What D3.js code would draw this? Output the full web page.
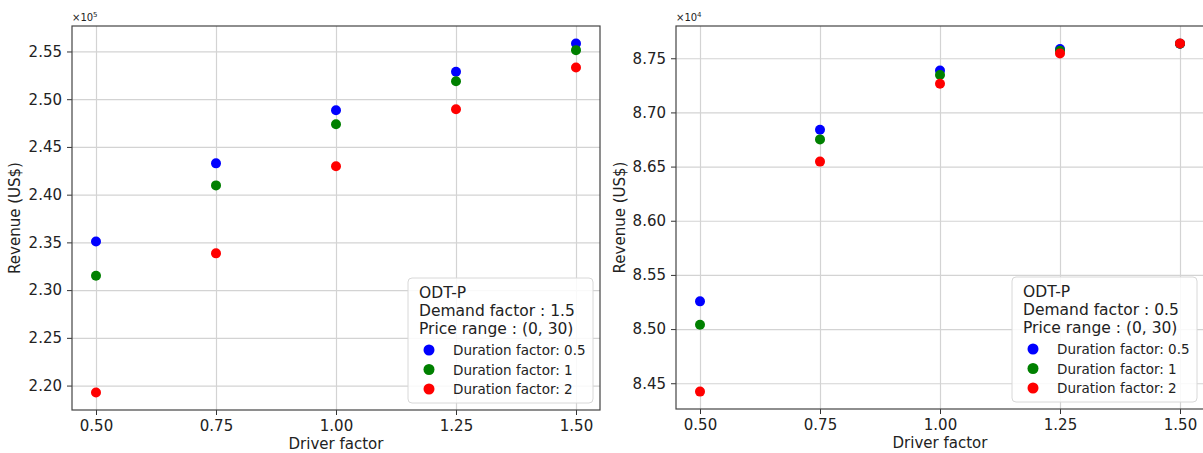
<!DOCTYPE html>
<html>
<head>
<meta charset="utf-8">
<script src="https://cdn.jsdelivr.net/npm/d3@7"></script>
<style>
  body { margin: 0; background: #ffffff; }
  text { font-family: 'DejaVu Sans', sans-serif; fill: #222; }
</style>
</head>
<body>
<div id="chart"></div>
<script>
// Data.
const driverFactors = [0.5, 0.75, 1.0, 1.25, 1.5];
const xTicks = [0.5, 0.75, 1.0, 1.25, 1.5];
const seriesNames = ['Duration factor: 0.5', 'Duration factor: 1', 'Duration factor: 2'];
const seriesColors = ['#0000ff', '#008000', '#ff0000'];

// Demand factor 1.5 (x 1e5)
const leftDuration05 = [2.351, 2.4328, 2.4885, 2.5287, 2.5584];
const leftDuration1 = [2.315, 2.4097, 2.4738, 2.5188, 2.5514];
const leftDuration2 = [2.1927, 2.3385, 2.4297, 2.4895, 2.5332];
const leftYTicks = [2.20, 2.25, 2.30, 2.35, 2.40, 2.45, 2.50, 2.55];

// Demand factor 0.5 (x 1e4)
const rightDuration05 = [8.5256, 8.684, 8.7386, 8.7585, 8.7634];
const rightDuration1 = [8.504, 8.6751, 8.7346, 8.757, 8.7634];
const rightDuration2 = [8.4423, 8.6546, 8.7265, 8.7545, 8.7637];
const rightYTicks = [8.45, 8.50, 8.55, 8.60, 8.65, 8.70, 8.75];

const width = 1203;
const height = 453;

const svg = d3.select('#chart')
      .append('svg')
      .attr('width', width)
      .attr('height', height);

function panel(opts) {
  const { left, right, top, bottom, series, yTicks, exponent, demand, ylabelX } = opts;

  // matplotlib style 5% margins
  const xExt = d3.extent(driverFactors);
  const xPad = (xExt[1] - xExt[0]) * 0.05;
  const allY = series.flat();
  const yExt = d3.extent(allY);
  const yPad = (yExt[1] - yExt[0]) * 0.05;

  const x = d3.scaleLinear().domain([xExt[0] - xPad, xExt[1] + xPad]).range([left, right]);
  const y = d3.scaleLinear().domain([yExt[0] - yPad, yExt[1] + yPad]).range([bottom, top]);

  const g = svg.append('g');

  // Grid.
  g.append('g')
    .attr('transform', `translate(0,${bottom})`)
    .call(d3.axisBottom(x).tickValues(xTicks).tickSize(-(bottom - top)).tickFormat(''))
    .call(s => s.select('.domain').remove())
    .call(s => s.selectAll('line').attr('stroke', '#d3d3d3').attr('stroke-width', 1.2));
  g.append('g')
    .attr('transform', `translate(${left},0)`)
    .call(d3.axisLeft(y).tickValues(yTicks).tickSize(-(right - left)).tickFormat(''))
    .call(s => s.select('.domain').remove())
    .call(s => s.selectAll('line').attr('stroke', '#d3d3d3').attr('stroke-width', 1.2));

  // Axes.
  const xAxis = g.append('g')
    .attr('transform', `translate(0,${bottom})`)
    .call(d3.axisBottom(x).tickValues(xTicks).tickSize(5).tickPadding(5).tickFormat(d3.format('.2f')));
  const yAxis = g.append('g')
    .attr('transform', `translate(${left},0)`)
    .call(d3.axisLeft(y).tickValues(yTicks).tickSize(5).tickPadding(5).tickFormat(d3.format('.2f')));
  [xAxis, yAxis].forEach(a => {
    a.select('.domain').remove();
    a.selectAll('line').attr('stroke', '#333');
    a.selectAll('text').style('font-size', '15px').attr('fill', '#222');
  });

  // Frame.
  g.append('rect')
    .attr('x', left).attr('y', top)
    .attr('width', right - left).attr('height', bottom - top)
    .attr('fill', 'none').attr('stroke', '#444').attr('stroke-width', 1.2);

  // Points.
  series.forEach((vals, i) => {
    g.append('g')
      .selectAll('circle')
      .data(vals)
      .join('circle')
      .attr('cx', (d, j) => x(driverFactors[j]))
      .attr('cy', d => y(d))
      .attr('r', 5)
      .attr('fill', seriesColors[i]);
  });

  // Offset text.
  const off = g.append('text')
    .attr('x', left)
    .attr('y', top - 5)
    .style('font-size', '10px');
  off.append('tspan').text('\u00d710');
  off.append('tspan').attr('dy', -4).style('font-size', '7px').text(exponent);

  // Axis labels.
  g.append('text')
    .attr('x', (left + right) / 2)
    .attr('y', bottom + 39)
    .attr('text-anchor', 'middle')
    .style('font-size', '15px')
    .text('Driver factor');
  g.append('text')
    .attr('transform', `translate(${ylabelX},${(top + bottom) / 2}) rotate(-90)`)
    .attr('text-anchor', 'middle')
    .style('font-size', '15px')
    .text('Revenue (US$)');

  // Legend.
  const lw = 185, lh = 125;
  const lx = right - 7 - lw, ly = bottom - 7 - lh;
  const leg = g.append('g').attr('transform', `translate(${lx},${ly})`);
  leg.append('rect')
    .attr('width', lw).attr('height', lh)
    .attr('rx', 4)
    .attr('fill', '#ffffff').attr('fill-opacity', 0.85)
    .attr('stroke', '#d8d8d8');
  const titles = ['ODT-P', `Demand factor : ${demand}`, 'Price range : (0, 30)'];
  const titleBase = [19.5, 38, 55.5];
  titles.forEach((t, i) => {
    leg.append('text')
      .attr('x', 11).attr('y', titleBase[i])
      .style('font-size', '15.5px')
      .text(t);
  });
  seriesNames.forEach((name, i) => {
    const cy = 72 + i * 19.5;
    leg.append('circle')
      .attr('cx', 21).attr('cy', cy).attr('r', 5.5)
      .attr('fill', seriesColors[i]);
    leg.append('text')
      .attr('x', 45).attr('y', cy + 5)
      .style('font-size', '13.5px')
      .text(name);
  });
}

panel({
  left: 72, right: 600, top: 26, bottom: 410,
  series: [leftDuration05, leftDuration1, leftDuration2],
  yTicks: leftYTicks, exponent: '5', demand: '1.5', ylabelX: 20
});

panel({
  left: 676, right: 1204, top: 26, bottom: 409,
  series: [rightDuration05, rightDuration1, rightDuration2],
  yTicks: rightYTicks, exponent: '4', demand: '0.5', ylabelX: 625
});
</script>
</body>
</html>
